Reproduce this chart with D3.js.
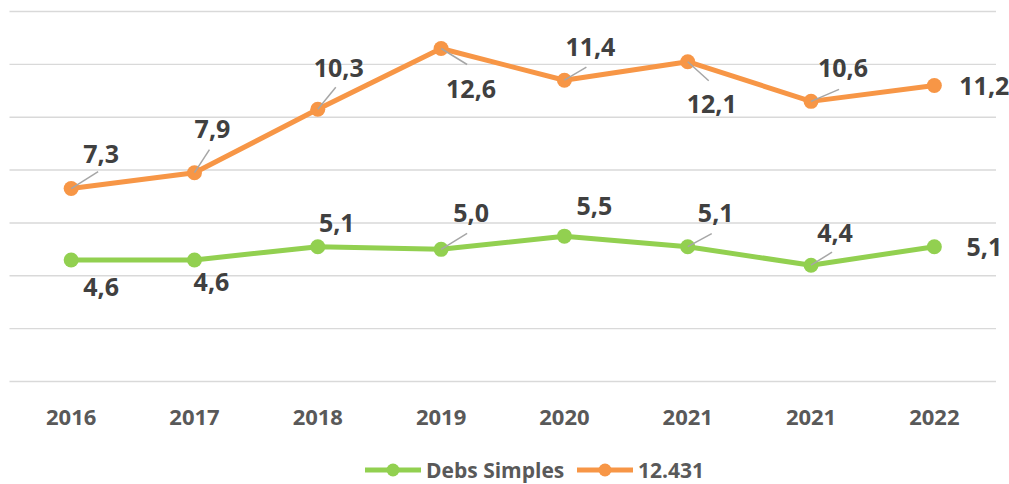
<!DOCTYPE html>
<html><head><meta charset="utf-8">
<script src="https://cdn.jsdelivr.net/npm/d3@7"></script>
<style>body{margin:0;background:#fff;} svg{display:block;}</style>
</head><body>
<svg id="chart" width="1009" height="484"></svg>
<script>
const categories = ["2016","2017","2018","2019","2020","2021","2021","2022"];
const seriesNames = ["Debs Simples","12.431"];
const debsSimples = [4.6,4.6,5.1,5.0,5.5,5.1,4.4,5.1];
const serie12431 = [7.3,7.9,10.3,12.6,11.4,12.1,10.6,11.2];
const yTicks = [0,2,4,6,8,10,12,14];

// label placement (pixel offsets from the point: label centre and leader end)
const orangeLabelPos = [[30,-35,27,-17],[18,-44,15,-23],[21,-41,18,-22],[30,40,26,16],[26,-33,22,-13],[24,42,21,19],[32,-33,28,-12],[50,0,null,null]];
const greenLabelPos = [[30,27,null,null],[17,22,null,null],[19,-24,null,null],[30,-36,26,-16],[30,-30,null,null],[28,-34,24,-13],[24,-32,21,-13],[50,0,null,null]];

(function(){
const svg = d3.select("#chart");
const pLeft = 9.5, pRight = 996, pTop = 11.5, pBottom = 381.5;
const x = d3.scaleBand().domain(d3.range(categories.length)).range([pLeft,pRight]);
const y = d3.scaleLinear().domain([0,14]).range([pBottom,pTop]);
const cx = i => x(i) + x.bandwidth()/2;

// gridlines
svg.append("g").selectAll("line").data(yTicks).join("line")
  .attr("x1",pLeft).attr("x2",pRight)
  .attr("y1",d=>y(d)).attr("y2",d=>y(d))
  .attr("stroke","#d9d9d9").attr("stroke-width",1.4);

// x axis labels
const xAxis = d3.axisBottom(x).tickSize(0).tickFormat(i=>categories[i]);
const gx = svg.append("g").attr("transform",`translate(0,${pBottom})`).call(xAxis);
gx.select(".domain").remove();
gx.selectAll("text").attr("dy",0).attr("y",43)
  .attr("font-family","'Open Sans', sans-serif").attr("font-weight","bold")
  .attr("font-size",22).attr("fill","#595959");

const series = [
  {name:seriesNames[0], values:debsSimples, color:"#92D050", pos:greenLabelPos},
  {name:seriesNames[1], values:serie12431, color:"#F79646", pos:orangeLabelPos}
];
const line = d3.line().x((d,i)=>cx(i)).y(d=>y(d));
const fmt = v => d3.format(".1f")(v).replace(".",",");

series.forEach(s=>{
  const g = svg.append("g");
  g.append("path").datum(s.values).attr("d",line)
    .attr("fill","none").attr("stroke",s.color).attr("stroke-width",5)
    .attr("stroke-linejoin","round");
  g.selectAll("circle").data(s.values).join("circle")
    .attr("cx",(d,i)=>cx(i)).attr("cy",d=>y(d)).attr("r",7.5).attr("fill",s.color);
  g.selectAll("line.leader").data(s.values.map((v,i)=>({v,i,p:s.pos[i]})).filter(d=>d.p[2]!==null))
    .join("line").attr("class","leader")
    .attr("x1",d=>cx(d.i)).attr("y1",d=>y(d.v))
    .attr("x2",d=>cx(d.i)+d.p[2]).attr("y2",d=>y(d.v)+d.p[3])
    .attr("stroke","#a6a6a6").attr("stroke-width",1.5);
  g.selectAll("text").data(s.values).join("text")
    .attr("x",(d,i)=>cx(i)+s.pos[i][0]).attr("y",(d,i)=>y(d)+s.pos[i][1])
    .attr("dy","0.36em").attr("text-anchor","middle")
    .attr("font-family","'Open Sans', sans-serif").attr("font-weight","bold")
    .attr("font-size",25).attr("fill","#404040")
    .text(d=>fmt(d));
});

// legend
const legend = svg.append("g");
const ly = 470;
const legendItems = [
  {name:seriesNames[0], color:"#92D050", x0:365},
  {name:seriesNames[1], color:"#F79646", x0:577}
];
legendItems.forEach(it=>{
  legend.append("line").attr("x1",it.x0).attr("x2",it.x0+56).attr("y1",ly).attr("y2",ly)
    .attr("stroke",it.color).attr("stroke-width",5);
  legend.append("circle").attr("cx",it.x0+28).attr("cy",ly).attr("r",6.5).attr("fill",it.color);
  legend.append("text").attr("x",it.x0+61).attr("y",ly).attr("dy","0.36em")
    .attr("font-family","'Open Sans', sans-serif").attr("font-weight","bold")
    .attr("font-size",21).attr("fill","#595959").text(it.name);
});
})();
</script>
</body></html>
